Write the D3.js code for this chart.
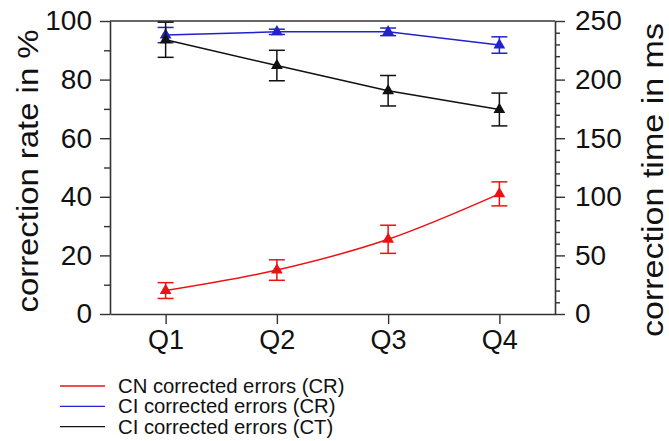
<!DOCTYPE html>
<html><head><meta charset="utf-8">
<script src="https://cdn.jsdelivr.net/npm/d3@7"></script>
<style>body{margin:0;background:#fff}svg{display:block}</style>
</head><body>
<script>
const categories = ["Q1","Q2","Q3","Q4"];
const cnCR = [8, 15, 25.5, 41];
const cnCRErr = [2.7, 3.5, 4.8, 4.1];
const ciCR = [95.2, 96.3, 96.3, 91.8];
const ciCRErr = [2.6, 0.9, 1.3, 2.8];
const ciCT = [234, 212, 190.5, 174.5];
const ciCTErr = [15, 13, 13, 14];
const leftTicks = [0,20,40,60,80,100];
const leftMinor = [10,30,50,70,90];
const rightTicks = [0,50,100,150,200,250];
const rightMinor = [10,20,30,40,60,70,80,90,110,120,130,140,160,170,180,190,210,220,230,240];
const legendLabels = ["CN corrected errors (CR)","CI corrected errors (CR)","CI corrected errors (CT)"];
const colors = ["#ee1111","#2222cc","#111111"];

const W = 669, H = 441;
const L = 110, R = 555, T = 21, B = 314;
const font = "Liberation Sans, Arial, sans-serif";
const axisColor = "#333";

const svg = d3.select("body").append("svg").attr("width", W).attr("height", H)
  .style("font-family", font);

const x = d3.scalePoint().domain(categories).range([L, R]).padding(0.5);
const yL = d3.scaleLinear().domain([0,100]).range([B, T]);
const yR = d3.scaleLinear().domain([0,250]).range([B, T]);

function styleAxis(g, fs){
  g.selectAll(".domain").attr("stroke", axisColor).attr("stroke-width", 1.6);
  g.selectAll(".tick line").attr("stroke", axisColor).attr("stroke-width", 1.4);
  g.selectAll("text").attr("fill", "#111").style("font-size", fs + "px").style("font-family", font);
}

// minor ticks
svg.append("g").attr("transform", `translate(${L},0)`)
  .call(d3.axisLeft(yL).tickValues(leftMinor).tickSize(6).tickFormat(""))
  .call(g => { styleAxis(g, 26); g.select(".domain").remove(); });
svg.append("g").attr("transform", `translate(${R},0)`)
  .call(d3.axisRight(yR).tickValues(rightMinor).tickSize(5).tickFormat(""))
  .call(g => { styleAxis(g, 26); g.select(".domain").remove(); });

// major axes
svg.append("g").attr("transform", `translate(${L},0)`)
  .call(d3.axisLeft(yL).tickValues(leftTicks).tickSize(10).tickSizeOuter(0).tickPadding(8))
  .call(g => styleAxis(g, 28));
svg.append("g").attr("transform", `translate(${R},0)`)
  .call(d3.axisRight(yR).tickValues(rightTicks).tickSize(10).tickSizeOuter(0).tickPadding(10))
  .call(g => styleAxis(g, 28));
svg.append("g").attr("transform", `translate(0,${B})`)
  .call(d3.axisBottom(x).tickSize(10).tickSizeOuter(0).tickPadding(6))
  .call(g => styleAxis(g, 27));
// top frame
svg.append("line").attr("x1", L).attr("x2", R).attr("y1", T).attr("y2", T)
  .attr("stroke", axisColor).attr("stroke-width", 1.6);

// axis titles
svg.append("text").attr("transform", `translate(38,171) rotate(-90)`)
  .attr("text-anchor", "middle").style("font-size", "29.5px").attr("fill", "#111")
  .attr("textLength", 283).attr("lengthAdjust", "spacingAndGlyphs")
  .text("correction rate in %");
svg.append("text").attr("transform", `translate(663,180) rotate(-90)`)
  .attr("text-anchor", "middle").style("font-size", "29.5px").attr("fill", "#111")
  .attr("textLength", 314).attr("lengthAdjust", "spacingAndGlyphs")
  .text("correction time in ms");

// series
const series = [
  {vals: cnCR, err: cnCRErr, y: yL, color: colors[0], curve: d3.curveMonotoneX},
  {vals: ciCR, err: ciCRErr, y: yL, color: colors[1], curve: d3.curveLinear},
  {vals: ciCT, err: ciCTErr, y: yR, color: colors[2], curve: d3.curveLinear}
];
const tri = d3.symbol().type(d3.symbolTriangle).size(60);
series.forEach(s => {
  const data = categories.map((c,i) => ({c, v: s.vals[i], e: s.err[i]}));
  const g = svg.append("g");
  g.append("path").datum(data)
    .attr("fill", "none").attr("stroke", s.color).attr("stroke-width", 1.5)
    .attr("d", d3.line().x(d => x(d.c)).y(d => s.y(d.v)).curve(s.curve));
  const eb = g.selectAll(".eb").data(data).enter().append("g");
  eb.append("line").attr("x1", d => x(d.c)).attr("x2", d => x(d.c))
    .attr("y1", d => s.y(d.v + d.e)).attr("y2", d => s.y(d.v - d.e))
    .attr("stroke", s.color).attr("stroke-width", 1.5);
  [1,-1].forEach(sg => {
    eb.append("line").attr("x1", d => x(d.c) - 8).attr("x2", d => x(d.c) + 8)
      .attr("y1", d => s.y(d.v + sg*d.e)).attr("y2", d => s.y(d.v + sg*d.e))
      .attr("stroke", s.color).attr("stroke-width", 1.5);
  });
  g.selectAll(".m").data(data).enter().append("path")
    .attr("transform", d => `translate(${x(d.c)},${s.y(d.v)})`)
    .attr("d", tri).attr("fill", s.color);
});

// legend
legendLabels.forEach((lab, i) => {
  const yy = 386 + i * 20.3;
  svg.append("line").attr("x1", 60).attr("x2", 105).attr("y1", yy).attr("y2", yy)
    .attr("stroke", colors[i]).attr("stroke-width", 1.3);
  svg.append("text").attr("x", 118).attr("y", yy + 7).style("font-size", "20.3px")
    .attr("fill", "#111").text(lab);
});
</script>
</body></html>
